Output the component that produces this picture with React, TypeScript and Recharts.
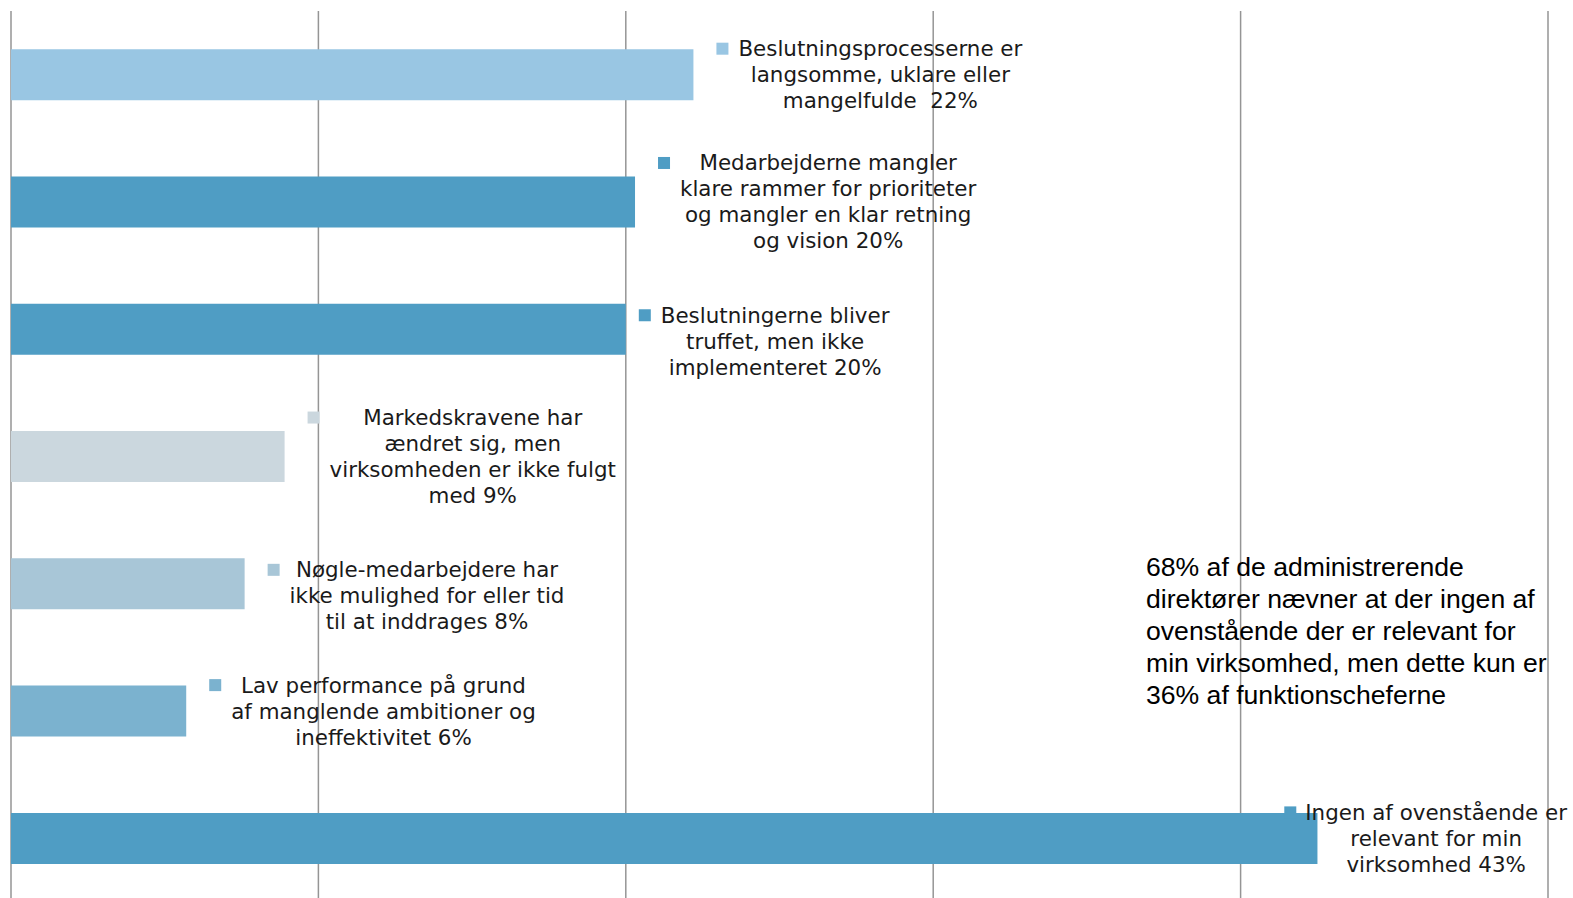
import { BarChart, Bar, XAxis, YAxis, CartesianGrid, LabelList, Cell } from 'recharts';

const categories = [
  'Beslutningsprocesserne',
  'Medarbejderne',
  'Beslutningerne',
  'Markedskravene',
  'Nøgle-medarbejdere',
  'Lav performance',
  'Ingen af ovenstående',
];

const values = [22.2, 20.3, 20.0, 8.9, 7.6, 5.7, 42.5];

const labelLines = [
  ['Beslutningsprocesserne er', 'langsomme, uklare eller', 'mangelfulde  22%'],
  ['Medarbejderne mangler', 'klare rammer for prioriteter', 'og mangler en klar retning', 'og vision 20%'],
  ['Beslutningerne bliver', 'truffet, men ikke', 'implementeret 20%'],
  ['Markedskravene har', 'ændret sig, men', 'virksomheden er ikke fulgt', 'med 9%'],
  ['Nøgle-medarbejdere har', 'ikke mulighed for eller tid', 'til at inddrages 8%'],
  ['Lav performance på grund', 'af manglende ambitioner og', 'ineffektivitet 6%'],
  ['Ingen af ovenstående er', 'relevant for min', 'virksomhed 43%'],
];

const colors = ['#99C6E3', '#4F9DC4', '#4F9DC4', '#CBD7DE', '#A8C6D7', '#7BB2CF', '#4F9DC4'];

const gridTicks = [0, 10, 20, 30, 40, 50];

const note = [
  '68% af de administrerende',
  'direktører nævner at der ingen af',
  'ovenstående der er relevant for',
  'min virksomhed, men dette kun er',
  '36% af funktionscheferne',
];

const data = categories.map((name, i) => ({ name, value: values[i] }));

const W = 1573;
const H = 902;
const FONT = "'DejaVu Sans', Verdana, sans-serif";
const FS = 21.4;
const LH = 26;

// a couple of labels were dragged by hand in the original
const labelNudge: Record<number, [number, number]> = { 2: [-10, 12], 4: [0, 12] };

let ctx: CanvasRenderingContext2D | null = null;
function measure(s: string) {
  if (!ctx) ctx = document.createElement('canvas').getContext('2d');
  if (!ctx) return s.length * FS * 0.6;
  ctx.font = `${FS}px 'DejaVu Sans'`;
  return ctx.measureText(s).width;
}

function BarLabel(props: any) {
  const vb = props.viewBox && props.viewBox.width != null ? props.viewBox : props;
  const { x, y, width, height } = vb;
  const i = categories.indexOf(props.value);
  if (i < 0) return null;
  const lines = labelLines[i];
  const [dx, dy] = labelNudge[i] ?? [0, 0];
  const blockW = Math.max(...lines.map(measure));
  let sq = x + width + 23 + dx;
  let left = sq + 22;
  if (left + blockW > W - 6) {
    left = W - 6 - blockW;
    sq = left - 21;
  }
  const cx = left + blockW / 2;
  const cy = y + height / 2 + dy;
  const first = cy - ((lines.length - 1) * LH) / 2;
  return (
    <g>
      <rect x={sq} y={first - 6} width={12} height={12} fill={colors[i]} />
      {lines.map((l, k) => (
        <text
          key={k}
          x={cx}
          y={first + k * LH}
          textAnchor="middle"
          dominantBaseline="central"
          fontFamily={FONT}
          fontSize={FS}
          fill="#1a1a1a"
          style={{ whiteSpace: 'pre' }}
        >
          {l}
        </text>
      ))}
    </g>
  );
}

// grid lines come from the x scale, fallback to the plot offset
const gridX = ({ xAxis, offset }: any) =>
  gridTicks.map((t) =>
    xAxis && typeof xAxis.scale === 'function'
      ? xAxis.scale(t)
      : offset.left + (t / gridTicks[gridTicks.length - 1]) * offset.width
  );

export default function App() {
  return (
    <div style={{ position: 'absolute', left: 0, top: 0, width: W, height: 898, overflow: 'hidden', background: '#fff' }}>
      <BarChart
        width={W}
        height={H}
        data={data}
        layout="vertical"
        margin={{ top: 11, right: 25, left: 11, bottom: 0 }}
        barCategoryGap="30%"
      >
        <CartesianGrid
          horizontal={false}
          stroke="#959595"
          strokeWidth={1.5}
          verticalCoordinatesGenerator={gridX}
        />
        <XAxis
          type="number"
          domain={[0, 50]}
          ticks={gridTicks}
          tick={false}
          tickLine={false}
          axisLine={false}
          height={0}
        />
        <YAxis
          type="category"
          dataKey="name"
          width={0}
          tick={false}
          tickLine={false}
          axisLine={{ stroke: '#959595', strokeWidth: 1.5 }}
        />
        <Bar dataKey="value" isAnimationActive={false}>
          {data.map((d, i) => (
            <Cell key={d.name} fill={colors[i]} />
          ))}
          <LabelList dataKey="name" content={BarLabel} />
        </Bar>
      </BarChart>
      <div
        style={{
          position: 'absolute',
          left: 1146,
          top: 551,
          fontFamily: "'Liberation Sans', Arial, sans-serif",
          fontSize: 26.6,
          lineHeight: '32px',
          color: '#000',
          whiteSpace: 'nowrap',
        }}
      >
        {note.map((l) => (
          <div key={l}>{l}</div>
        ))}
      </div>
    </div>
  );
}
